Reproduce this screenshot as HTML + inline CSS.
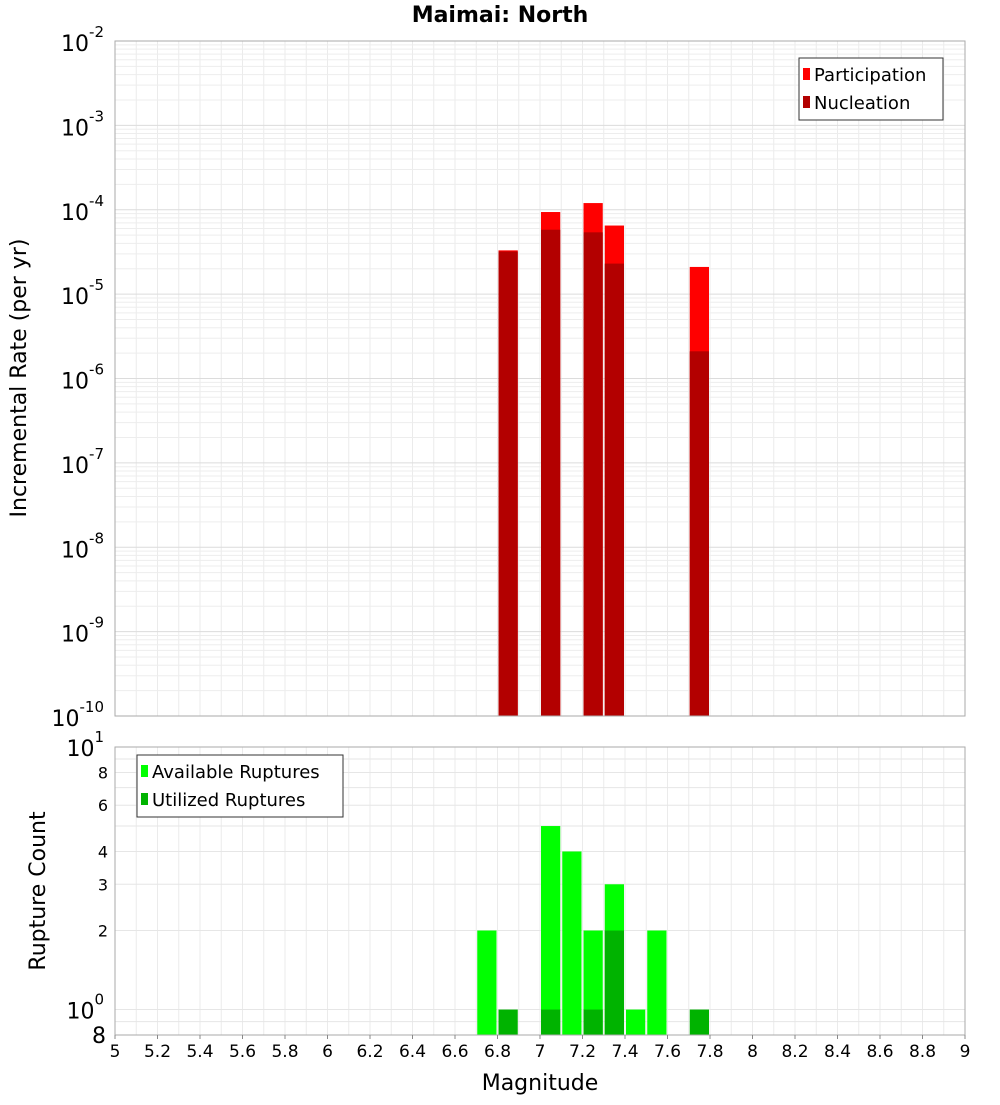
<!DOCTYPE html>
<html><head><meta charset="utf-8"><style>
body{margin:0;background:#fff;font-family:"Liberation Sans","DejaVu Sans",sans-serif}
</style></head><body>
<svg id="c" width="1000" height="1100" xmlns="http://www.w3.org/2000/svg" font-family="DejaVu Sans, Liberation Sans, sans-serif"></svg>
<script>
const topMags=[6.85,7.05,7.25,7.35,7.75];
const participation=[3.3e-5,9.4e-5,1.2e-4,6.5e-5,2.1e-5];
const nucleation=[3.2e-5,5.8e-5,5.4e-5,2.3e-5,2.1e-6];
const availMags=[6.75,7.05,7.15,7.25,7.35,7.45,7.55];
const availCounts=[2,5,4,2,3,1,2];
const utilMags=[6.85,7.05,7.25,7.35,7.75];
const utilCounts=[1,1,1,2,1];
const xTicks=[5,5.2,5.4,5.6,5.8,6,6.2,6.4,6.6,6.8,7,7.2,7.4,7.6,7.8,8,8.2,8.4,8.6,8.8,9];
const topExps=[-2,-3,-4,-5,-6,-7,-8,-9,-10];
const botTicks=[2,3,4,6,8];

const svg=document.getElementById('c');const NS='http://www.w3.org/2000/svg';
function el(t,a,p){const e=document.createElementNS(NS,t);for(const k in a)e.setAttribute(k,a[k]);(p||svg).appendChild(e);return e;}
const X0=115,X1=965;
const xs=m=>X0+(m-5)/4*(X1-X0);
const T0=41,T1=716;
const yt=v=>T0+(-2-Math.log10(v))/8*(T1-T0);
const B0=747,B1=1035;
const yb=v=>B0+(1-Math.log10(v))/(1-Math.log10(0.8))*(B1-B0);

// panels
const gTop=el('g',{});
const gBot=el('g',{});
el('rect',{x:X0,y:T0,width:X1-X0,height:T1-T0,fill:'#fff'},gTop);
el('rect',{x:X0,y:B0,width:X1-X0,height:B1-B0,fill:'#fff'},gBot);
// grids
for(let m=5;m<=9.0001;m+=0.1){const x=xs(m);
 el('line',{x1:x,x2:x,y1:T0,y2:T1,stroke:'#ebebeb','stroke-width':1},gTop);
 el('line',{x1:x,x2:x,y1:B0,y2:B1,stroke:'#ebebeb','stroke-width':1},gBot);}
for(let e=-10;e<-2;e++)for(let k=1;k<10;k++){const y=yt(k*Math.pow(10,e));
 el('line',{x1:X0,x2:X1,y1:y,y2:y,stroke:k==1?'#dcdcdc':'#ededed','stroke-width':1},gTop);}
for(let k=1;k<=10;k++){const y=yb(k);el('line',{x1:X0,x2:X1,y1:y,y2:y,stroke:'#e6e6e6'},gBot);}
el('line',{x1:X0,x2:X1,y1:yb(0.9),y2:yb(0.9),stroke:'#e6e6e6'},gBot);
// bars
const bw=(X1-X0)/40;
function bar(g,m,v,f,yf,yb0,name){const x=xs(m)-bw/2+1,y=yf(v);const r=el('rect',{x:x,y:y,width:bw-2,height:yb0-y,fill:f},g);}
topMags.forEach((m,i)=>bar(gTop,m,participation[i],'#ff0000',yt,T1,'participation-bar'));
topMags.forEach((m,i)=>bar(gTop,m,nucleation[i],'#b30000',yt,T1,'nucleation-bar'));
availMags.forEach((m,i)=>bar(gBot,m,availCounts[i],'#00ff00',yb,B1,'available-bar'));
utilMags.forEach((m,i)=>bar(gBot,m,utilCounts[i],'#00b300',yb,B1,'utilized-bar'));
el('rect',{x:X0,y:T0,width:X1-X0,height:T1-T0,fill:'none',stroke:'#aaa'},gTop);
el('rect',{x:X0,y:B0,width:X1-X0,height:B1-B0,fill:'none',stroke:'#aaa'},gBot);
// ticks
function txt(s,a,name){const t=el('text',a);t.textContent=s;return t;}
xTicks.forEach(m=>{el('line',{x1:xs(m),x2:xs(m),y1:B1,y2:B1+4,stroke:'#888'});txt(String(m),{x:xs(m),y:B1+22,'font-size':17,'text-anchor':'middle'},'x-tick-label');});
topExps.forEach(e=>{const y=yt(Math.pow(10,e));const t=txt('10',{x:104,y:y+10,'font-size':22,'text-anchor':'end'},'y-tick-label');
 const s=el('tspan',{dy:-14,'font-size':15},t);s.textContent=String(e);});
// bottom ticks
{const t=txt('10',{x:104,y:B0+9,'font-size':22,'text-anchor':'end'},'y-tick-label');const s=el('tspan',{dy:-14,'font-size':15},t);s.textContent='1';}
{const t=txt('10',{x:104,y:yb(1)+9,'font-size':22,'text-anchor':'end'},'y-tick-label');const s=el('tspan',{dy:-14,'font-size':15},t);s.textContent='0';}
txt('8',{x:106,y:B1+8,'font-size':22,'text-anchor':'end'},'y-tick-label');
botTicks.forEach(v=>txt(String(v),{x:108,y:yb(v)+6,'font-size':16,'text-anchor':'end'},'y-tick-label'));
// titles
txt('Maimai: North',{x:500,y:22,'font-size':22,'font-weight':'bold','text-anchor':'middle'},'chart-title');
txt('Magnitude',{x:540,y:1090,'font-size':22,'text-anchor':'middle'},'x-axis-title');
txt('Incremental Rate (per yr)',{x:0,y:0,'font-size':22,'text-anchor':'middle',transform:'translate(26,378) rotate(-90)'},'y-axis-title-top');
txt('Rupture Count',{x:0,y:0,'font-size':22,'text-anchor':'middle',transform:'translate(45,891) rotate(-90)'},'y-axis-title-bottom');
// legends
function legend(x,y,w,items,name){const g=el('g',{});
 el('rect',{x:x,y:y,width:w,height:items.length*28+6,fill:'#fff',stroke:'#333'},g);
 items.forEach((it,i)=>{el('rect',{x:x+4,y:y+10+i*28,width:7,height:12,fill:it[1]},g);const t=el('text',{x:x+15,y:y+23+i*28,'font-size':18},g);t.textContent=it[0];});}
legend(799,58,144,[['Participation','#ff0000'],['Nucleation','#b30000']],'legend-top');
legend(137,755,206,[['Available Ruptures','#00ff00'],['Utilized Ruptures','#00b300']],'legend-bottom');
</script>
</body></html>
